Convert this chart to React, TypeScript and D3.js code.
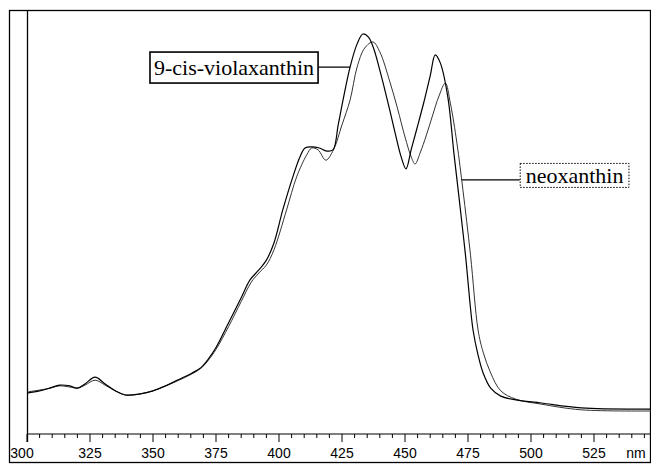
import * as React from 'react';
import * as d3 from 'd3';

// wavelength (nm) and relative absorbance
const violaxNm = [300, 305, 309, 313, 317, 320, 323, 327, 331, 335, 339, 345, 350, 355, 360, 365, 369, 372, 375, 380, 385, 388.5, 392, 395, 398, 401.5, 405.5, 408.3, 410.3, 413, 416, 419, 421.4, 423.5, 425.4, 428.2, 431, 433.3, 435.5, 437.5, 440, 443, 446, 448.5, 450.4, 452.5, 455, 457.5, 460, 462, 464, 467, 469.4, 471, 474, 477, 479, 481, 484, 488, 494, 504, 520, 549];
const violaxAbs = [0.055, 0.061, 0.068, 0.076, 0.074, 0.068, 0.079, 0.097, 0.079, 0.061, 0.050, 0.053, 0.061, 0.074, 0.090, 0.106, 0.122, 0.145, 0.175, 0.240, 0.306, 0.353, 0.379, 0.405, 0.450, 0.537, 0.624, 0.676, 0.700, 0.703, 0.700, 0.692, 0.695, 0.761, 0.826, 0.913, 0.974, 1.000, 0.992, 0.963, 0.905, 0.826, 0.742, 0.676, 0.645, 0.697, 0.758, 0.821, 0.890, 0.945, 0.924, 0.834, 0.687, 0.595, 0.418, 0.221, 0.155, 0.108, 0.068, 0.047, 0.037, 0.029, 0.016, 0.013];

const neoxNm = [300, 305, 309, 313, 317, 320, 323, 327, 331, 335, 339, 345, 350, 355, 360, 365, 369, 372, 375, 380, 385, 389, 392, 395, 398, 403, 407, 411, 413, 415.5, 418.6, 421.6, 425, 428.2, 431, 434, 437.3, 440, 444, 447, 450, 452.5, 454, 456, 458.5, 461, 463.5, 466, 468, 470.6, 473, 476, 479, 481, 484, 488, 494, 504, 520, 549];
const neoxAbs = [0.058, 0.063, 0.068, 0.074, 0.071, 0.068, 0.076, 0.089, 0.076, 0.061, 0.050, 0.053, 0.061, 0.074, 0.088, 0.104, 0.120, 0.142, 0.170, 0.230, 0.296, 0.347, 0.371, 0.392, 0.432, 0.537, 0.624, 0.682, 0.700, 0.695, 0.668, 0.695, 0.761, 0.826, 0.913, 0.963, 0.979, 0.953, 0.874, 0.805, 0.729, 0.676, 0.658, 0.687, 0.734, 0.787, 0.837, 0.871, 0.818, 0.713, 0.589, 0.418, 0.221, 0.163, 0.108, 0.061, 0.039, 0.026, 0.011, 0.008];

const majorTicks = [300, 325, 350, 375, 400, 425, 450, 475, 500, 525];
const unitLabel = 'nm';
const violaxLabel = '9-cis-violaxanthin';
const neoxLabel = 'neoxanthin';

export default function App() {
  const ref = React.useRef<SVGSVGElement>(null);

  React.useEffect(() => {
    const width = 651;
    const height = 464;
    const svg = d3.select(ref.current);
    svg.selectAll('*').remove();
    svg.attr('width', width).attr('height', height);

    const x = d3.scaleLinear().domain([300, 550]).range([27, 657]);
    const y = d3.scaleLinear().domain([0, 1]).range([414, 34]);
    const axisY = 434;
    const sans = "'Liberation Sans', Arial, sans-serif";
    const serif = "'Liberation Serif', 'Times New Roman', serif";

    // frame
    svg.append('rect')
      .attr('x', 9.5).attr('y', 10.5)
      .attr('width', 641).attr('height', 452)
      .attr('fill', 'none').attr('stroke', '#000').attr('stroke-width', 1.3);
    svg.append('line')
      .attr('x1', 27.5).attr('x2', 27.5).attr('y1', 10).attr('y2', axisY + 8)
      .attr('stroke', '#000').attr('stroke-width', 1.3);

    // x axis
    const minor = d3.range(300, 551, 5).filter(v => v % 25 !== 0);
    const gx = svg.append('g').attr('transform', `translate(0,${axisY})`);
    gx.append('line').attr('x1', 27).attr('x2', width).attr('stroke', '#000').attr('stroke-width', 1.2);
    gx.selectAll('line.minor').data(minor).join('line')
      .attr('class', 'minor')
      .attr('x1', d => x(d)).attr('x2', d => x(d))
      .attr('y1', 0).attr('y2', 4)
      .attr('stroke', '#000');
    gx.selectAll('line.major').data(majorTicks).join('line')
      .attr('class', 'major')
      .attr('x1', d => x(d)).attr('x2', d => x(d))
      .attr('y1', 0).attr('y2', 8)
      .attr('stroke', '#000');
    gx.selectAll('text.tick').data(majorTicks).join('text')
      .attr('class', 'tick')
      .attr('x', d => x(d) + (d === 300 ? -5 : 0))
      .attr('y', 24)
      .attr('text-anchor', 'middle')
      .attr('font-family', sans)
      .attr('font-size', 14)
      .text(d => d);
    gx.append('text')
      .attr('x', 636).attr('y', 24)
      .attr('text-anchor', 'middle')
      .attr('font-family', sans)
      .attr('font-size', 14)
      .text(unitLabel);

    const line = d3.line<[number, number]>()
      .x(d => x(d[0]))
      .y(d => y(d[1]))
      .curve(d3.curveCatmullRom.alpha(0.5));

    const plot = svg.append('g');
    plot.append('path')
      .datum(d3.zip(neoxNm, neoxAbs) as [number, number][])
      .attr('fill', 'none').attr('stroke', '#333').attr('stroke-width', 1)
      .attr('d', line);
    plot.append('path')
      .datum(d3.zip(violaxNm, violaxAbs) as [number, number][])
      .attr('fill', 'none').attr('stroke', '#000').attr('stroke-width', 1.2)
      .attr('d', line);

    // labels
    const vx = x(428.2);
    const vy = y(0.913);
    svg.append('line')
      .attr('x1', vx - 32).attr('x2', vx).attr('y1', vy).attr('y2', vy)
      .attr('stroke', '#000').attr('stroke-width', 1.2);
    const vText = svg.append('text')
      .attr('font-family', serif).attr('font-size', 22)
      .attr('y', vy + 8)
      .text(violaxLabel);
    const vw = (vText.node() as SVGTextElement).getComputedTextLength();
    vText.attr('x', vx - 32 - 4 - vw);
    svg.append('rect')
      .attr('x', vx - 32 - vw - 8).attr('y', vy - 15)
      .attr('width', vw + 8).attr('height', 31)
      .attr('fill', 'none').attr('stroke', '#000').attr('stroke-width', 1.6);

    const nx = x(472.5);
    const ny = y(0.616);
    svg.append('line')
      .attr('x1', nx).attr('x2', nx + 58).attr('y1', ny).attr('y2', ny)
      .attr('stroke', '#000').attr('stroke-width', 1.2);
    const nText = svg.append('text')
      .attr('font-family', serif).attr('font-size', 22)
      .attr('x', nx + 64)
      .attr('y', ny + 3)
      .text(neoxLabel);
    const nw = (nText.node() as SVGTextElement).getComputedTextLength();
    svg.append('rect')
      .attr('x', nx + 58.5).attr('y', ny - 16.5)
      .attr('width', nw + 11).attr('height', 24)
      .attr('fill', 'none').attr('stroke', '#000').attr('stroke-width', 1)
      .attr('stroke-dasharray', '1.5,1.5');
  }, []);

  return <svg ref={ref} style={{ position: 'absolute', left: 0, top: 0, background: '#fff' }} />;
}
